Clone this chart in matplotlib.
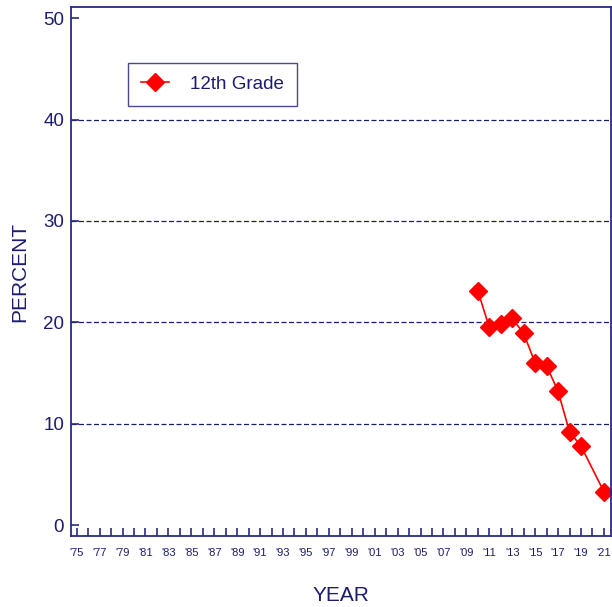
import numpy as np
import matplotlib
matplotlib.use("Agg")
import matplotlib.pyplot as plt

plt.rcParams['font.family'] = ['Liberation Sans', 'DejaVu Sans']

# datos 12th grade
years = [2010, 2011, 2012, 2013, 2014, 2015, 2016, 2017, 2018, 2019, 2021]
pct = [23.1, 19.5, 19.8, 20.4, 18.9, 16.0, 15.7, 13.2, 9.2, 7.8, 3.3]
all_years = list(range(1975, 2022))
tick_labels = [("'%02d" % (y % 100)) if y % 2 == 1 else "" for y in all_years]

navy = "#1c1c6e"
axis_col = "#2a2a80"

fig = plt.figure(figsize=(6.12, 6.07), dpi=100)
ax = fig.add_axes([0.116, 0.117, 0.882, 0.8715])

ax.plot(years, pct, color="red", lw=1.2, marker="D", markersize=9,
        markeredgecolor="red", markerfacecolor="red", label="12th Grade")

ax.set_xlim(1974.5, 2021.6)
ax.set_ylim(-1.07, 51.1)
ax.set_yticks([0, 10, 20, 30, 40, 50])
ax.set_xticks(all_years)
ax.set_xticklabels(tick_labels)

for v in [10, 20, 30, 40]:
    ax.axhline(v, color=navy, lw=0.9, ls=(0, (4, 2)), zorder=0)

for s in ax.spines.values():
    s.set_color(axis_col)
    s.set_linewidth(1.3)

ax.tick_params(axis="x", direction="in", length=6, width=1.2, color=axis_col,
               labelsize=8, labelcolor=navy, pad=9)
ax.tick_params(axis="y", direction="in", length=6, width=1.2, color=axis_col,
               labelsize=13.5, labelcolor=navy, pad=5)

ax.set_xlabel("YEAR", fontsize=15, color=navy, labelpad=20)
ax.set_ylabel("PERCENT", fontsize=15, color=navy, labelpad=10)

leg = ax.legend(loc="upper left", bbox_to_anchor=(0.105, 0.895), fontsize=13.5,
                frameon=True, fancybox=False, borderpad=0.7, handlelength=1.5,
                borderaxespad=0, handletextpad=1.1)
leg.get_frame().set_edgecolor(navy)
leg.get_frame().set_linewidth(1.0)
for t in leg.get_texts():
    t.set_color(navy)

fig.savefig("out.png", dpi=100)
